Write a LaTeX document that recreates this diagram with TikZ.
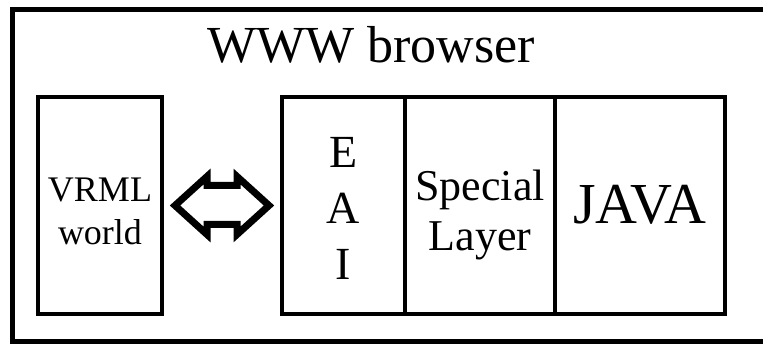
\documentclass[tikz,border=0pt]{standalone}
\usepackage{fontspec}
\setmainfont{Liberation Serif}
\usetikzlibrary{calc,positioning}

\begin{document}
\begin{tikzpicture}[x=1pt, y=1pt, line join=miter,
    part/.style={draw, line width=3.5pt, outer sep=0pt, inner sep=0pt,
      minimum height=217pt},
    words/.style={align=center, inner sep=0pt}]
  \useasboundingbox (0,0) rectangle (763,347);
  % The browser frame, cut off on the right.
  \draw[line width=5pt] (770,337) -- (12,337) -- (12,5) -- (770,5);
  \node[font=\fontsize{52}{60}\selectfont] (title) at (371,302) {WWW browser};
  % The scene and the three layers on the Java side.
  \node[part, minimum width=124pt] (vrml) at (100,141.5) {};
  \node[part, minimum width=123pt] (eai) at (343.5,141.5) {};
  \node[part, minimum width=150pt, anchor=west] (layer) at (eai.east) {};
  \node[part, minimum width=170pt, anchor=west] (java) at (layer.east) {};
  \node[words, font=\fontsize{36}{43}\selectfont] (vrmltext) at ($(vrml)+(0,-6)$) {VRML\\world};
  \node[words, font=\fontsize{46}{56}\selectfont] (eaitext) at ($(eai)+(0,-3)$) {E\\A\\I};
  \node[words, font=\fontsize{44}{50}\selectfont] (layertext) at ($(layer)+(0,-9)$) {Special\\Layer};
  \node[words, font=\fontsize{58}{60}\selectfont] (javatext) at ($(java)+(0,1)$) {JAVA};
  % The two-way link between the world and the EAI.
  \coordinate (mid) at ($(vrml.east)!.5!(eai.west)$);
  \draw[line width=7pt] ($(mid)+(-47,0)$) -- ++(32,29) -- ++(0,-9) -- ++(30,0) -- ++(0,9)
    -- ++(32,-29) -- ++(-32,-29) -- ++(0,10) -- ++(-30,0) -- ++(0,-10) -- cycle;
\end{tikzpicture}
\end{document}
